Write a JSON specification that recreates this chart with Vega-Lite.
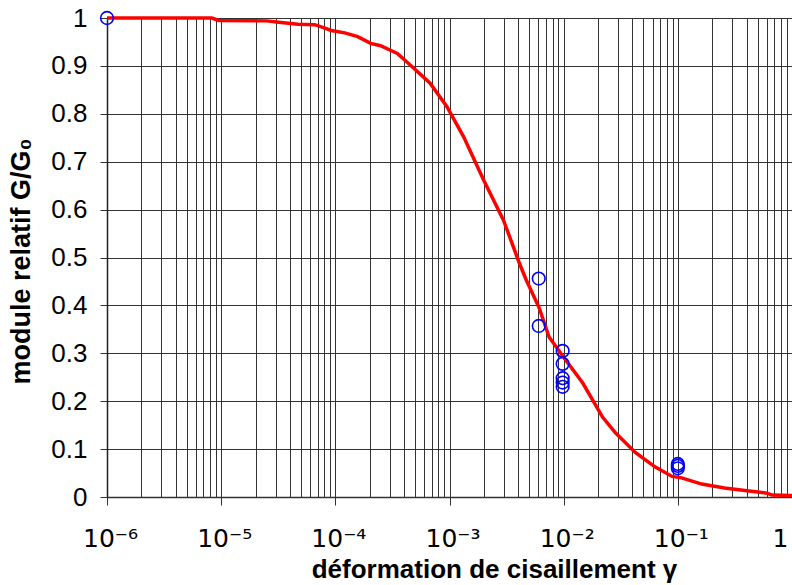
{
  "$schema": "https://vega.github.io/schema/vega-lite/v6.json",
  "autosize": "none",
  "width": 685,
  "height": 479,
  "padding": {"left": 107, "top": 18, "right": 0, "bottom": 88},
  "background": "white",
  "config": {"font": "Liberation Sans", "view": {"stroke": null}},
  "datasets": {
    "curve": [
      {"gamma": 1e-6, "G": 1.0},
      {"gamma": 8.3e-6, "G": 1.0},
      {"gamma": 9.5e-6, "G": 0.995},
      {"gamma": 2.5e-5, "G": 0.994},
      {"gamma": 3.2e-5, "G": 0.991},
      {"gamma": 4.7e-5, "G": 0.987},
      {"gamma": 6.6e-5, "G": 0.986},
      {"gamma": 8.1e-5, "G": 0.979},
      {"gamma": 9.2e-5, "G": 0.974},
      {"gamma": 1.21e-4, "G": 0.969},
      {"gamma": 1.57e-4, "G": 0.961},
      {"gamma": 2.04e-4, "G": 0.947},
      {"gamma": 2.49e-4, "G": 0.942},
      {"gamma": 3.49e-4, "G": 0.926},
      {"gamma": 4.53e-4, "G": 0.902},
      {"gamma": 6.76e-4, "G": 0.864},
      {"gamma": 9.5e-4, "G": 0.815},
      {"gamma": 1.33e-3, "G": 0.752},
      {"gamma": 1.99e-3, "G": 0.662},
      {"gamma": 2.97e-3, "G": 0.578},
      {"gamma": 4.08e-3, "G": 0.489},
      {"gamma": 4.7e-3, "G": 0.453},
      {"gamma": 6.1e-3, "G": 0.395},
      {"gamma": 7.45e-3, "G": 0.334},
      {"gamma": 1.04e-2, "G": 0.286},
      {"gamma": 1.47e-2, "G": 0.238},
      {"gamma": 2.19e-2, "G": 0.167},
      {"gamma": 2.84e-2, "G": 0.134},
      {"gamma": 4.24e-2, "G": 0.093},
      {"gamma": 6.3e-2, "G": 0.063},
      {"gamma": 8.9e-2, "G": 0.043},
      {"gamma": 0.108, "G": 0.040},
      {"gamma": 0.162, "G": 0.027},
      {"gamma": 0.256, "G": 0.019},
      {"gamma": 0.405, "G": 0.013},
      {"gamma": 0.604, "G": 0.008},
      {"gamma": 0.668, "G": 0.004},
      {"gamma": 1.0, "G": 0.003}
    ],
    "points": [
      {"gamma": 1e-6, "G": 1.0},
      {"gamma": 6.05e-3, "G": 0.456},
      {"gamma": 6.05e-3, "G": 0.357},
      {"gamma": 9.8e-3, "G": 0.305},
      {"gamma": 9.8e-3, "G": 0.278},
      {"gamma": 9.8e-3, "G": 0.248},
      {"gamma": 9.8e-3, "G": 0.239},
      {"gamma": 9.8e-3, "G": 0.230},
      {"gamma": 0.1, "G": 0.060},
      {"gamma": 0.1, "G": 0.065},
      {"gamma": 0.1, "G": 0.069}
    ]
  },
  "layer": [
    {
      "data": {"name": "curve"},
      "mark": {"type": "line", "color": "#ff0000", "strokeWidth": 3.5, "clip": false},
      "encoding": {
        "x": {
          "field": "gamma", "type": "quantitative",
          "scale": {"type": "log", "domain": [1e-6, 1], "nice": false},
          "axis": {
            "values": [1e-6,2e-6,3e-6,4e-6,5e-6,6e-6,7e-6,8e-6,9e-6,
                       1e-5,2e-5,3e-5,4e-5,5e-5,6e-5,7e-5,8e-5,9e-5,
                       1e-4,2e-4,3e-4,4e-4,5e-4,6e-4,7e-4,8e-4,9e-4,
                       1e-3,2e-3,3e-3,4e-3,5e-3,6e-3,7e-3,8e-3,9e-3,
                       1e-2,2e-2,3e-2,4e-2,5e-2,6e-2,7e-2,8e-2,9e-2,
                       0.1,0.2,0.3,0.4,0.5,0.6,0.7,0.8,0.9,1],
            "grid": true, "gridColor": "#333333", "gridWidth": 1,
            "domainColor": "#333333", "domainWidth": 1.5,
            "ticks": true, "tickSize": 8, "tickColor": "#333333", "tickWidth": 1,
            "tickOpacity": {"condition": {"test": "abs(log(datum.value)/LN10 - round(log(datum.value)/LN10)) < 0.001", "value": 1}, "value": 0},
            "labelExpr": "abs(log(datum.value)/LN10 - round(log(datum.value)/LN10)) < 0.001 ? ['10⁻⁶','10⁻⁵','10⁻⁴','10⁻³','10⁻²','10⁻¹','1'][round(log(datum.value)/LN10)+6] : ''",
            "labelFont": "DejaVu Sans", "labelFontSize": 25, "labelColor": "black",
            "labelAlign": {"condition": {"test": "datum.value > 0.5", "value": "right"}, "value": "center"},
            "labelOffset": {"condition": {"test": "datum.value > 0.5", "value": -4}, "value": 3},
            "labelBaseline": "alphabetic", "labelPadding": 41,
            "labelOverlap": false, "labelBound": false, "labelFlush": false,
            "title": "déformation de cisaillement γ",
            "titleFont": "Liberation Sans", "titleFontSize": 26, "titleFontWeight": "bold", "titleColor": "black",
            "titleX": 387, "titleY": 80, "titleAlign": "center", "titleBaseline": "alphabetic"
          }
        },
        "y": {
          "field": "G", "type": "quantitative",
          "scale": {"domain": [0, 1], "nice": false, "zero": true},
          "axis": {
            "values": [0, 0.1, 0.2, 0.3, 0.4, 0.5, 0.6, 0.7, 0.8, 0.9, 1],
            "format": "~g",
            "grid": true, "gridColor": "#333333", "gridWidth": 1,
            "domainColor": "#222222", "domainWidth": 1.5,
            "tickSize": 7, "tickColor": "#333333",
            "labelFont": "Liberation Sans", "labelFontSize": 26, "labelColor": "black",
            "labelPadding": 13, "labelBaseline": "middle",
            "title": "module relatif G/G₀",
            "titleFont": "Liberation Sans", "titleFontSize": 27, "titleFontWeight": "bold", "titleColor": "black",
            "titleX": -78, "titleY": 243, "titleAngle": -90, "titleAlign": "center", "titleBaseline": "alphabetic"
          }
        }
      }
    },
    {
      "data": {"name": "points"},
      "mark": {"type": "point", "shape": "circle", "filled": false, "stroke": "#0000ff", "strokeWidth": 1.6, "size": 160, "opacity": 1, "clip": false},
      "encoding": {
        "x": {"field": "gamma", "type": "quantitative"},
        "y": {"field": "G", "type": "quantitative"}
      }
    }
  ]
}
